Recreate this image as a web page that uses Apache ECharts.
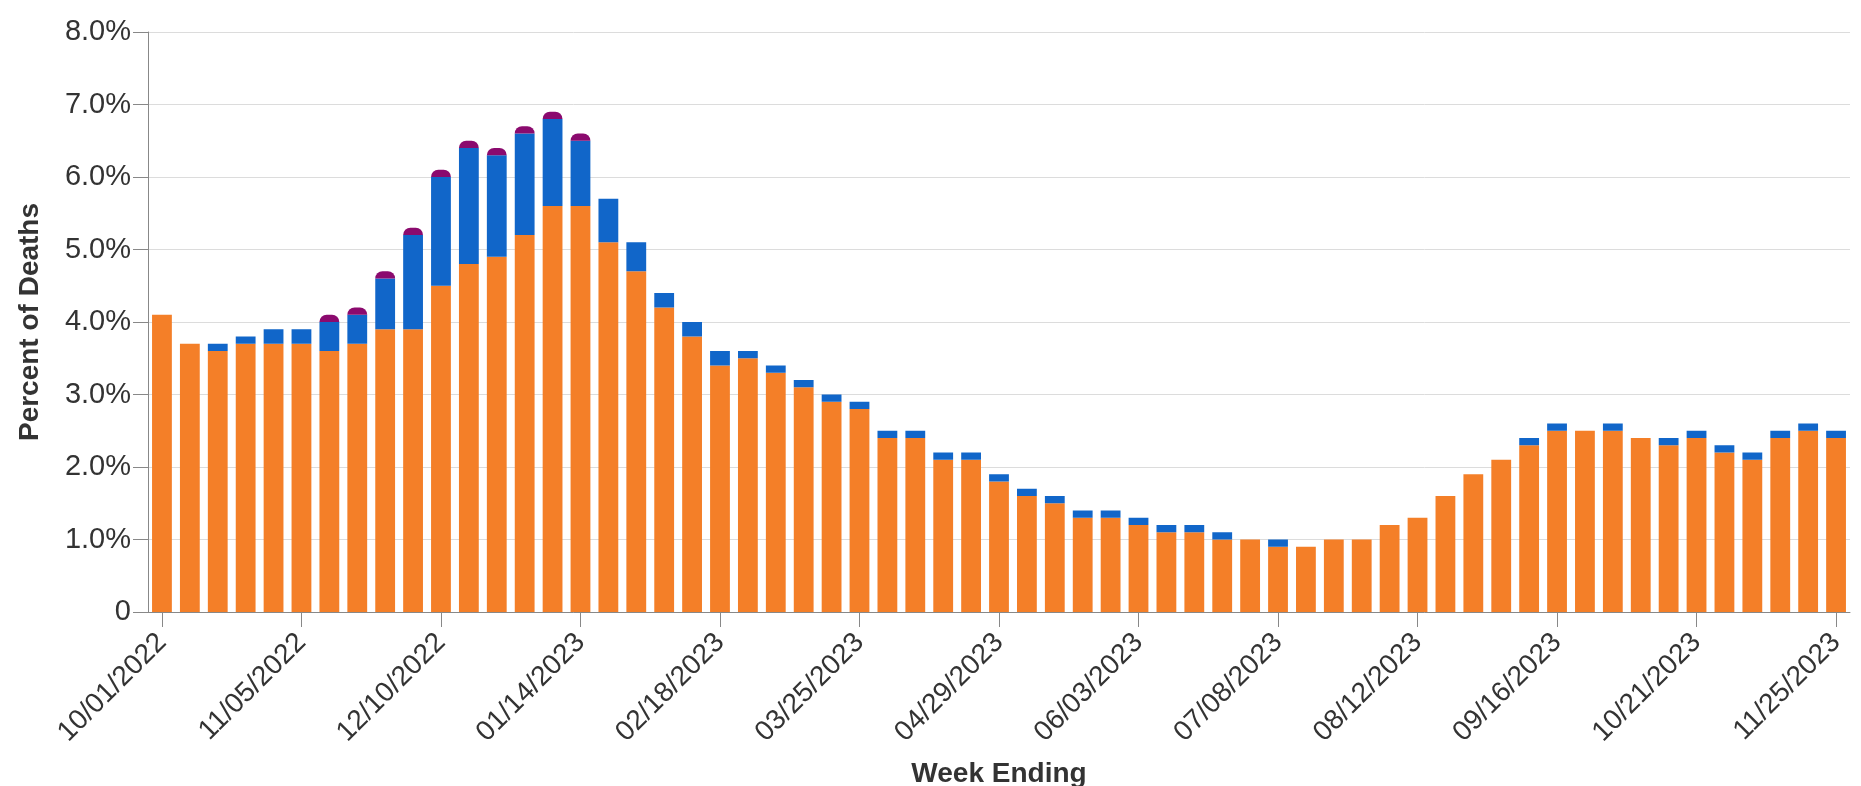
<!DOCTYPE html>
<html>
<head>
<meta charset="utf-8">
<script src="https://cdn.jsdelivr.net/npm/echarts@6/dist/echarts.min.js"></script>
<style>
html,body{margin:0;padding:0;background:#fff;}
#chart{width:1861px;height:786px;}
</style>
</head>
<body>
<div id="chart"></div>
<script>
const weeks = [
 "10/01/2022","10/08/2022","10/15/2022","10/22/2022","10/29/2022",
 "11/05/2022","11/12/2022","11/19/2022","11/26/2022","12/03/2022",
 "12/10/2022","12/17/2022","12/24/2022","12/31/2022","01/07/2023",
 "01/14/2023","01/21/2023","01/28/2023","02/04/2023","02/11/2023",
 "02/18/2023","02/25/2023","03/04/2023","03/11/2023","03/18/2023",
 "03/25/2023","04/01/2023","04/08/2023","04/15/2023","04/22/2023",
 "04/29/2023","05/06/2023","05/13/2023","05/20/2023","05/27/2023",
 "06/03/2023","06/10/2023","06/17/2023","06/24/2023","07/01/2023",
 "07/08/2023","07/15/2023","07/22/2023","07/29/2023","08/05/2023",
 "08/12/2023","08/19/2023","08/26/2023","09/02/2023","09/09/2023",
 "09/16/2023","09/23/2023","09/30/2023","10/07/2023","10/14/2023",
 "10/21/2023","10/28/2023","11/04/2023","11/11/2023","11/18/2023",
 "11/25/2023"
];
const covid = [
 4.1,3.7,3.6,3.7,3.7, 3.7,3.6,3.7,3.9,3.9,
 4.5,4.8,4.9,5.2,5.6, 5.6,5.1,4.7,4.2,3.8,
 3.4,3.5,3.3,3.1,2.9, 2.8,2.4,2.4,2.1,2.1,
 1.8,1.6,1.5,1.3,1.3, 1.2,1.1,1.1,1.0,1.0,
 0.9,0.9,1.0,1.0,1.2, 1.3,1.6,1.9,2.1,2.3,
 2.5,2.5,2.5,2.4,2.3, 2.4,2.2,2.1,2.4,2.5,
 2.4
];
const influenza = [
 0,0,0.1,0.1,0.2, 0.2,0.4,0.4,0.7,1.3,
 1.5,1.6,1.4,1.4,1.2, 0.9,0.6,0.4,0.2,0.2,
 0.2,0.1,0.1,0.1,0.1, 0.1,0.1,0.1,0.1,0.1,
 0.1,0.1,0.1,0.1,0.1, 0.1,0.1,0.1,0.1,0,
 0.1,0,0,0,0, 0,0,0,0,0.1,
 0.1,0,0.1,0,0.1, 0.1,0.1,0.1,0.1,0.1,
 0.1
];
const rsv = [
 0,0,0,0,0, 0,0.1,0.1,0.1,0.1,
 0.1,0.1,0.1,0.1,0.1, 0.1,0,0,0,0,
 0,0,0,0,0, 0,0,0,0,0,
 0,0,0,0,0, 0,0,0,0,0,
 0,0,0,0,0, 0,0,0,0,0,
 0,0,0,0,0, 0,0,0,0,0,
 0
];
const yTicks = [0,1,2,3,4,5,6,7,8];

const FONT = '"Liberation Sans", Arial, Helvetica, sans-serif';
const chart = echarts.init(document.getElementById('chart'), null, {renderer:'canvas'});
const toNull = a => a.map(v => v === 0 ? null : v);
chart.setOption({
  animation:false,
  backgroundColor:'#ffffff',
  textStyle:{fontFamily:FONT},
  grid:{left:148, right:11, top:32, bottom:174, containLabel:false, outerBoundsMode:'none'},
  xAxis:{
    type:'category',
    data:weeks,
    name:'Week Ending',
    nameLocation:'middle',
    nameGap:148,
    nameTextStyle:{fontFamily:FONT, fontSize:28, fontWeight:'bold', color:'#333'},
    axisLine:{show:true, lineStyle:{color:'#888', width:1}},
    axisTick:{show:true, alignWithLabel:true, interval:4, length:15, lineStyle:{color:'#888'}},
    axisLabel:{interval:4, rotate:45, margin:26, fontFamily:FONT, fontSize:28, color:'#333'},
    splitLine:{show:false}
  },
  yAxis:{
    type:'value',
    min:yTicks[0], max:yTicks[yTicks.length-1], interval:1,
    name:'Percent of Deaths',
    nameLocation:'middle',
    nameGap:104,
    nameTextStyle:{fontFamily:FONT, fontSize:28, fontWeight:'bold', color:'#333'},
    axisLine:{show:true, lineStyle:{color:'#888', width:1}},
    axisTick:{show:true, length:15, lineStyle:{color:'#888'}},
    axisLabel:{margin:17, fontFamily:FONT, fontSize:29, color:'#333',
      formatter: v => v === 0 ? '0' : v.toFixed(1) + '%'},
    splitLine:{show:true, lineStyle:{color:'#dcdcdc', width:1}}
  },
  series:[
    {name:'COVID-19', type:'bar', stack:'d', data:covid, barCategoryGap:'29%',
     itemStyle:{color:'#f47f28'}},
    {name:'Influenza', type:'bar', stack:'d', data:toNull(influenza),
     itemStyle:{color:'#1166c9'}},
    {name:'RSV', type:'bar', stack:'d', data:toNull(rsv),
     itemStyle:{color:'#8b0a6e', borderRadius:[10,10,0,0]}}
  ]
});
</script>
</body>
</html>
